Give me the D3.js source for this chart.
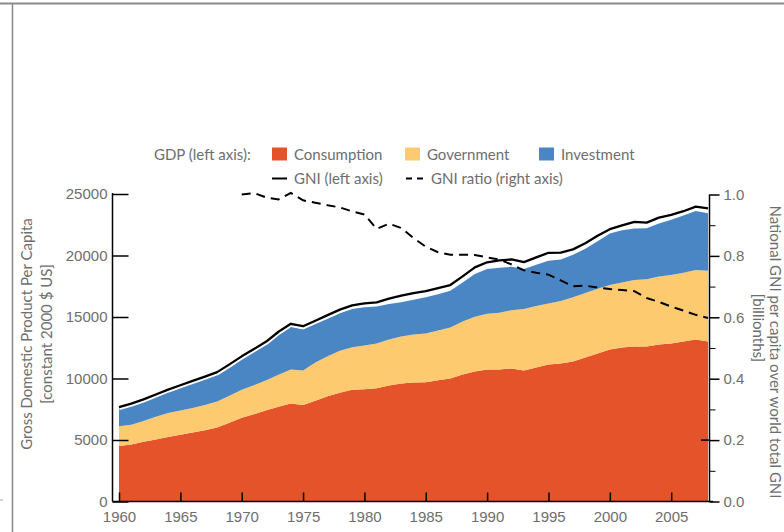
<!DOCTYPE html>
<html>
<head>
<meta charset="utf-8">
<script src="https://cdn.jsdelivr.net/npm/d3@7"></script>
<style>
  body { margin: 0; background: #fff; }
  svg { display: block; font-family: Lato, "Open Sans", sans-serif; }
  .lbl { fill: #6e6e6e; font-size: 15px; }
</style>
</head>
<body>
<svg id="chart" width="784" height="532"></svg>
<script>
// yearly values, 1960..2008
const years = d3.range(1960, 2009);

// GDP per capita components (constant 2000 $ US)
const consumption = [4520, 4630, 4850, 5050, 5250, 5420, 5600, 5800, 6020, 6400,
  6800, 7100, 7410, 7700, 7960, 7850, 8200, 8550, 8850, 9080,
  9120, 9200, 9440, 9600, 9680, 9700, 9850, 10000, 10330, 10570,
  10740, 10740, 10820, 10660, 10900, 11140, 11220, 11390, 11710, 12030,
  12360, 12520, 12600, 12600, 12760, 12840, 13000, 13170, 13000];
const government = [1600, 1620, 1700, 1850, 1950, 1980, 2000, 2050, 2120, 2200,
  2290, 2350, 2440, 2600, 2780, 2810, 3100, 3250, 3400, 3470,
  3560, 3640, 3730, 3810, 3890, 3950, 4050, 4140, 4300, 4460,
  4530, 4610, 4730, 4990, 5000, 4960, 5080, 5210, 5240, 5270,
  5240, 5280, 5400, 5460, 5540, 5580, 5600, 5650, 5760];
const investment = [1460, 1570, 1600, 1650, 1750, 1900, 2050, 2150, 2190, 2350,
  2510, 2750, 2950, 3250, 3460, 3340, 3150, 3050, 3050, 3100,
  3120, 3010, 2880, 2780, 2830, 2950, 2950, 3000, 3170, 3460,
  3630, 3650, 3530, 3250, 3350, 3470, 3380, 3460, 3600, 3850,
  4180, 4250, 4190, 4160, 4300, 4480, 4650, 4800, 4670];

// GNI per capita (left axis)
const gni = [7680, 7960, 8300, 8700, 9100, 9450, 9800, 10150, 10520, 11150,
  11800, 12400, 13000, 13800, 14450, 14250, 14700, 15150, 15600, 15950,
  16100, 16190, 16500, 16730, 16950, 17100, 17350, 17600, 18300, 19030,
  19450, 19600, 19680, 19460, 19850, 20220, 20240, 20500, 21000, 21600,
  22140, 22450, 22730, 22670, 23080, 23300, 23600, 23970, 23840];

// national GNI per capita over world total GNI (right axis), 1970..2008
const ratioYears = d3.range(1970, 2009);
const gniRatio = [1.0, 1.005, 0.99, 0.984, 1.005, 0.981, 0.973, 0.965, 0.958, 0.945,
  0.935, 0.888, 0.905, 0.891, 0.858, 0.83, 0.812, 0.804, 0.804, 0.803,
  0.795, 0.788, 0.772, 0.753, 0.745, 0.739, 0.72, 0.701, 0.703, 0.697,
  0.692, 0.689, 0.685, 0.663, 0.65, 0.635, 0.622, 0.608, 0.598];

const seriesNames = ["Consumption", "Government", "Investment"];
const seriesColors = ["#e5532a", "#fdca70", "#4a86c4"];
const leftTicks = [0, 5000, 10000, 15000, 20000, 25000];
const rightTicks = [0, 0.2, 0.4, 0.6, 0.8, 1.0];
const xTicks = [1960, 1965, 1970, 1975, 1980, 1985, 1990, 1995, 2000, 2005];

const svg = d3.select("#chart");

// page frame
svg.append("line").attr("x1", 0).attr("x2", 784).attr("y1", 3.5).attr("y2", 3.5)
  .attr("stroke", "#8a8a8a").attr("stroke-width", 2);
svg.append("line").attr("x1", 12.5).attr("x2", 12.5).attr("y1", 3.5).attr("y2", 532)
  .attr("stroke", "#8a8a8a").attr("stroke-width", 1.5);
svg.append("line").attr("x1", 0).attr("x2", 3).attr("y1", 500).attr("y2", 500)
  .attr("stroke", "#aaa").attr("stroke-width", 1);

const x = d3.scaleLinear().domain([1960, 2008]).range([119, 708]);
const yL = d3.scaleLinear().domain([0, 25000]).range([501.5, 194]);
const yR = d3.scaleLinear().domain([0, 1]).range([501.5, 194.5]);

const rows = years.map((yr, i) => ({
  year: yr, Consumption: consumption[i], Government: government[i], Investment: investment[i]
}));
const stacked = d3.stack().keys(seriesNames)(rows);

const area = d3.area()
  .x(d => x(d.data.year))
  .y0(d => yL(d[0]))
  .y1(d => yL(d[1]));

svg.append("g").selectAll("path").data(stacked).join("path")
  .attr("d", area)
  .attr("fill", (d, i) => seriesColors[i]);

// GNI line with white halo
const gniLine = d3.line().x((d, i) => x(years[i])).y(d => yL(d));
svg.append("path").attr("d", gniLine(gni)).attr("fill", "none")
  .attr("stroke", "#fff").attr("stroke-width", 6).attr("stroke-linejoin", "round");
svg.append("path").attr("d", gniLine(gni)).attr("fill", "none")
  .attr("stroke", "#000").attr("stroke-width", 2.3).attr("stroke-linejoin", "round");

// GNI ratio dashed line
const ratioLine = d3.line().x((d, i) => x(ratioYears[i])).y(d => yR(d));
svg.append("path").attr("d", ratioLine(gniRatio)).attr("fill", "none")
  .attr("stroke", "#000").attr("stroke-width", 2).attr("stroke-dasharray", "9,6");

// left axis, ticks point inward
const gL = svg.append("g").attr("transform", "translate(112.5,0)")
  .call(d3.axisLeft(yL).tickValues(leftTicks).tickFormat(d3.format("d"))
    .tickSize(-16).tickPadding(5).tickSizeOuter(0));
// bottom axis
const gB = svg.append("g").attr("transform", "translate(0,501.5)")
  .call(d3.axisBottom(x).tickValues(xTicks).tickFormat(d3.format("d"))
    .tickSize(-9).tickPadding(10).tickSizeOuter(0));
gB.select(".domain").attr("d", "M112.5,0H713");
// right axis, major ticks outward
const gR = svg.append("g").attr("transform", "translate(709.5,0)")
  .call(d3.axisRight(yR).tickValues(rightTicks).tickFormat(d3.format(".1f"))
    .tickSize(10).tickPadding(4).tickSizeOuter(0));
// minor ticks
svg.append("g").attr("transform", "translate(709.5,0)")
  .call(d3.axisRight(yR).tickValues([0.1, 0.3, 0.5, 0.7, 0.9]).tickSize(6).tickFormat("").tickSizeOuter(0))
  .select(".domain").remove();
svg.append("line").attr("x1", 701).attr("x2", 709.5)
  .attr("y1", yR(0.2)).attr("y2", yR(0.2)).attr("stroke", "#000").attr("stroke-width", 1.5);

[gL, gB, gR].forEach(g => {
  g.selectAll(".domain, line").attr("stroke", "#000").attr("stroke-width", 1.5);
  g.selectAll("text").attr("class", "lbl").attr("fill", null).attr("font-family", null).attr("font-size", null);
});
gL.select(".domain").attr("d", "M0,501.5V193");
gR.select(".domain").attr("d", "M0,501.5V194.5");

// axis titles
svg.append("text").attr("class", "lbl")
  .attr("transform", "translate(32,334) rotate(-90)").attr("text-anchor", "middle")
  .text("Gross Domestic Product Per Capita");
svg.append("text").attr("class", "lbl")
  .attr("transform", "translate(52,334) rotate(-90)").attr("text-anchor", "middle")
  .text("[constant 2000 $ US]");
svg.append("text").attr("class", "lbl")
  .attr("transform", "translate(770,352) rotate(90)").attr("text-anchor", "middle")
  .text("National GNI per capita over world total GNI");
svg.append("text").attr("class", "lbl")
  .attr("transform", "translate(753,328) rotate(90)").attr("text-anchor", "middle")
  .text("[billionths]");

// legend
const leg = svg.append("g");
leg.append("text").attr("class", "lbl").attr("x", 154).attr("y", 160).text("GDP (left axis):");
const swatchX = [272, 405, 539];
seriesNames.forEach((name, i) => {
  leg.append("rect").attr("x", swatchX[i]).attr("y", 147.5).attr("width", 15).attr("height", 13)
    .attr("fill", seriesColors[i]);
  leg.append("text").attr("class", "lbl").attr("x", swatchX[i] + 22).attr("y", 160).text(name);
});
leg.append("line").attr("x1", 272).attr("x2", 287).attr("y1", 178.5).attr("y2", 178.5)
  .attr("stroke", "#000").attr("stroke-width", 2);
leg.append("text").attr("class", "lbl").attr("x", 294).attr("y", 184).text("GNI (left axis)");
leg.append("line").attr("x1", 406).attr("x2", 424).attr("y1", 178.5).attr("y2", 178.5)
  .attr("stroke", "#000").attr("stroke-width", 2).attr("stroke-dasharray", "6,5");
leg.append("text").attr("class", "lbl").attr("x", 431).attr("y", 184).text("GNI ratio (right axis)");
</script>
</body>
</html>
